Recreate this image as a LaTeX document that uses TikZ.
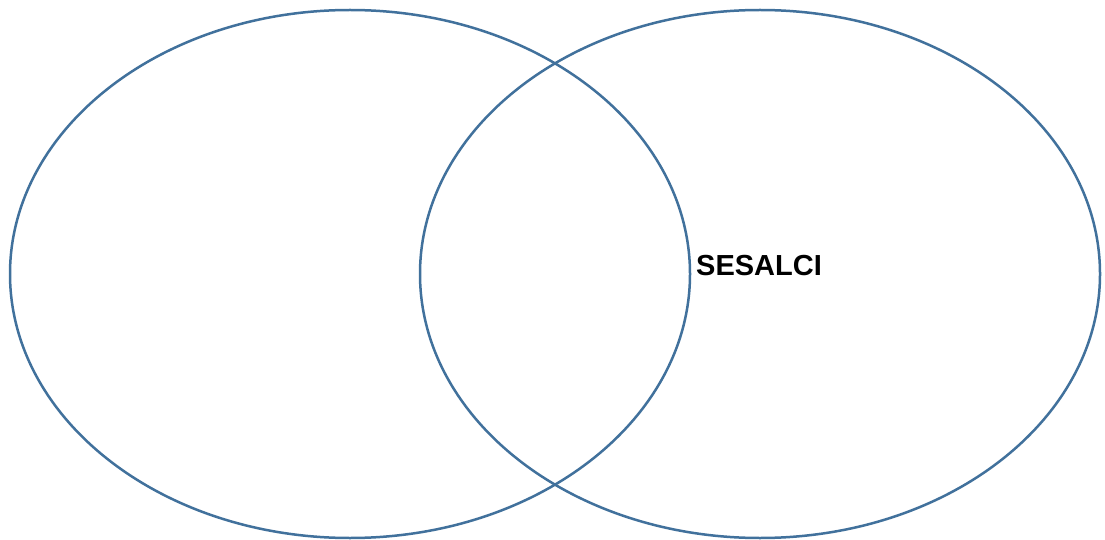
\documentclass[tikz,border=0pt]{standalone}
\usepackage{fontspec}
\setmainfont{Liberation Sans}
\definecolor{vennblue}{HTML}{41719C}
\tikzset{venn/.style={draw=vennblue, line width=2.5pt},
  lbl/.style={font=\fontsize{29}{33}\selectfont\bfseries, text=black, inner sep=0pt, anchor=west}}
\begin{document}
\begin{tikzpicture}[x=1pt,y=-1pt]
\useasboundingbox[fill=white] (0,0) rectangle (1105,540);
\draw[venn] (350,274) ellipse [x radius=340, y radius=264];
\draw[venn] (760,274) ellipse [x radius=340, y radius=264];
\node[lbl] (t) at (696,266) {SESALCI};
\end{tikzpicture}
\end{document}
